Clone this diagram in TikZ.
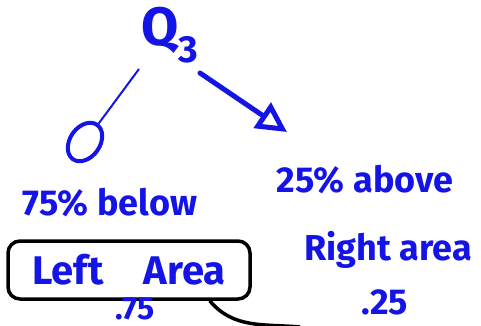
\documentclass[tikz,border=0pt]{standalone}
\usepackage{fontspec}
\setmainfont{Fira Sans}
\usetikzlibrary{arrows.meta,shapes.geometric}
\definecolor{pen}{RGB}{20,20,230}
\tikzset{
    ink/.style={text=pen, font=\fontsize{36}{40}\selectfont\bfseries, inner sep=0pt},
    stroke/.style={draw=pen, line width=5pt, line cap=round}
}
\begin{document}
\begin{tikzpicture}[x=1pt, y=-1pt]
                \useasboundingbox (0,0) rectangle (481,325);
                % Root question
                \node[ink, font=\fontsize{54}{58}\selectfont\bfseries] (q) at (170,35) {Q\textsubscript{3}};
                
                % Left branch
                \node[ellipse, draw=pen, line width=4pt, minimum width=30pt, minimum height=42pt, rotate=-35] (zero) at (85,142) {};
                \draw[draw=pen, line width=2pt] (139,69) -- (zero);
                
                % Right branch
                \coordinate (tip) at (287,132);
                \draw[stroke, -{Triangle[open, length=30pt, width=30pt, line width=5pt]}] (200,73) -- (tip);
                
                % Labels
                \node[ink] (below) at (110,203) {75\% below};
                \node[ink] (above) at (365,180) {25\% above};
                \node[ink] (right) at (388,250) {Right area};
                
                % Left area box
                \node[ink, font=\fontsize{40}{44}\selectfont\bfseries, draw=black, line width=3.5pt, rounded corners=12pt, minimum width=242pt, minimum height=58pt] (left) at (129,270) {Left\quad Area};
                \coordinate (tail) at (300,327);
                \draw[line width=3.5pt] ([xshift=-42pt]left.south east) to[out=-50, in=175] (tail);
                
                % Probabilities
                \node[ink, font=\fontsize{32}{36}\selectfont\bfseries] (pleft) at (135,309) {.75};
                \node[ink] (pright) at (385,302) {.25};
\end{tikzpicture}
\end{document}
